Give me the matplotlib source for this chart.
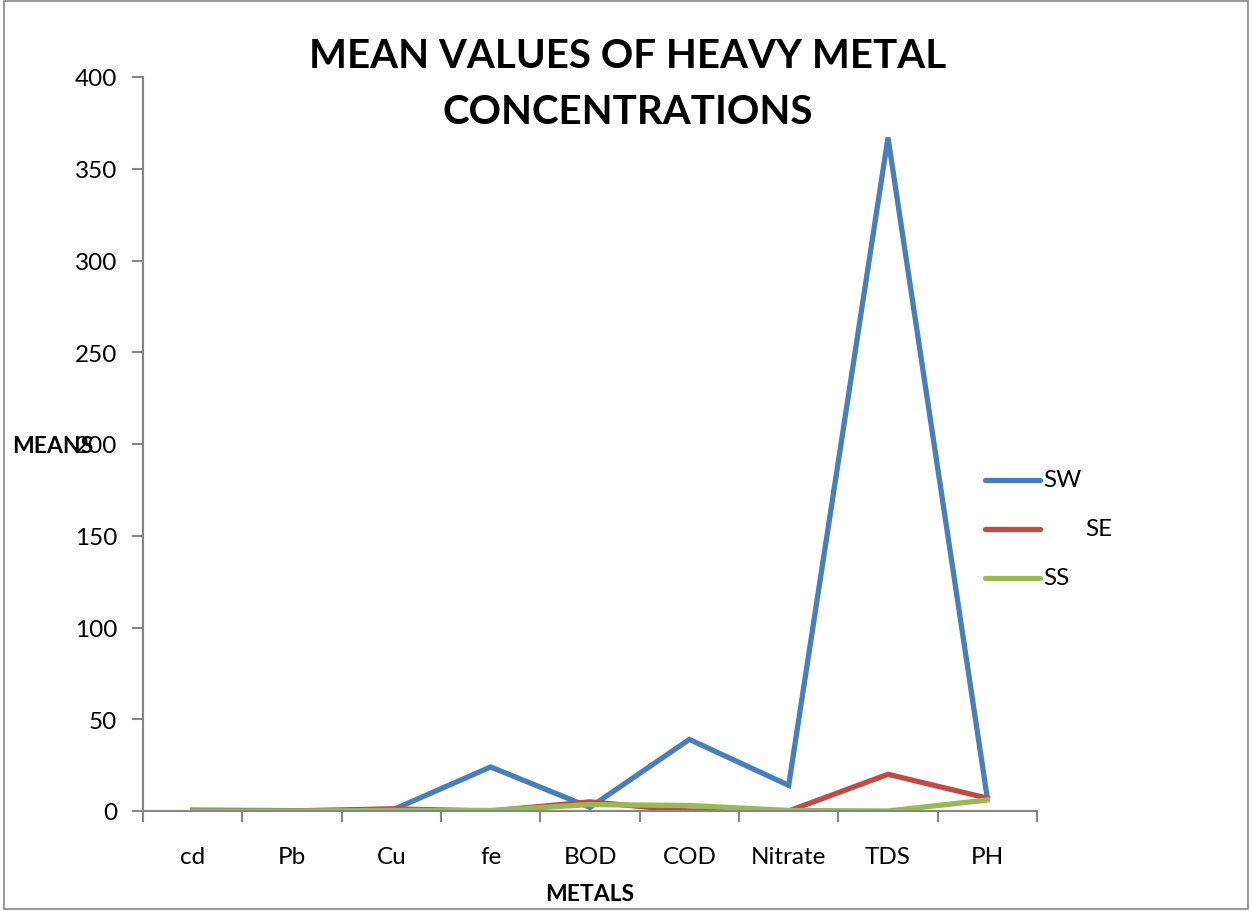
import matplotlib
matplotlib.use("Agg")
import matplotlib.pyplot as plt
from matplotlib.lines import Line2D
from matplotlib.patches import Rectangle
import numpy as np

plt.rcParams['font.family'] = ['Lato', 'DejaVu Sans']

# data
metals = ["cd", "Pb", "Cu", "fe", "BOD", "COD", "Nitrate", "TDS", "PH"]
sw = [0.5, 0.2, 0.3, 24, 2, 39, 14, 367, 7]
se = [0, 0, 1.2, 0, 5, 0, 0, 20, 7]
ss = [0, 0, 0.3, 0.3, 3.5, 3, 0.3, 0, 6]
series_names = ["SW", "SE", "SS"]
colors = ["#4A7EBB", "#BE4B48", "#98B954"]

fig = plt.figure(figsize=(12.52, 9.12), dpi=100)
ax = fig.add_axes([143/1252, 1-812/912, (1037-143)/1252, (812-78)/912])

x = np.arange(len(metals)) + 0.5
for vals, col, name in zip([sw, se, ss], colors, series_names):
    ax.plot(x, vals, color=col, lw=3.8, label=name, solid_joinstyle='miter')

ax.set_xlim(0, len(metals))
ax.set_ylim(0, 400)
ax.set_yticks(range(0, 401, 50))
ax.set_xticks(np.arange(0, len(metals)+1))
ax.set_xticklabels([])
ax.set_xticks(x, minor=True)
ax.set_xticklabels(metals, minor=True)
ax.tick_params(axis='x', which='minor', length=0, pad=25, labelsize=17.5)
ax.tick_params(axis='x', which='major', length=8, color='#868686', width=1.5, direction='out')
ax.tick_params(axis='y', length=8, color='#868686', width=1.5, direction='out', pad=10.5, labelsize=17.5)

for s in ['top', 'right']:
    ax.spines[s].set_visible(False)
for s in ['left', 'bottom']:
    ax.spines[s].set_color('#868686')
    ax.spines[s].set_linewidth(1.5)

fig.text(628/1252, 1-57/912, "MEAN VALUES OF HEAVY METAL", ha='center', va='center',
         fontsize=29, fontweight='bold')
fig.text(628/1252, 1-113/912, "CONCENTRATIONS", ha='center', va='center',
         fontsize=29, fontweight='bold')
fig.text(12/1252, 1-447/912, "MEANS", ha='left', va='center', fontsize=16.5, fontweight='bold')
fig.text(590/1252, 1-895/912, "METALS", ha='center', va='center', fontsize=16.5, fontweight='bold')

# legend drawn by hand to match the odd label placement
leg_y = [481, 530, 579]
leg_tx = [1043, 1085, 1043]
for col, name, yy, tx in zip(colors, series_names, leg_y, leg_tx):
    fig.add_artist(Line2D([985/1252, 1040/1252], [1-yy/912, 1-yy/912], color=col, lw=3.8,
                          solid_capstyle='round'))
    fig.text(tx/1252, 1-yy/912, name, ha='left', va='center', fontsize=17.5)

fig.add_artist(Rectangle((4/1252, 0.002), 1-8/1252, 0.996, transform=fig.transFigure,
                         fill=False, edgecolor='#868686', lw=1.2))

fig.savefig("out.png", dpi=100)
